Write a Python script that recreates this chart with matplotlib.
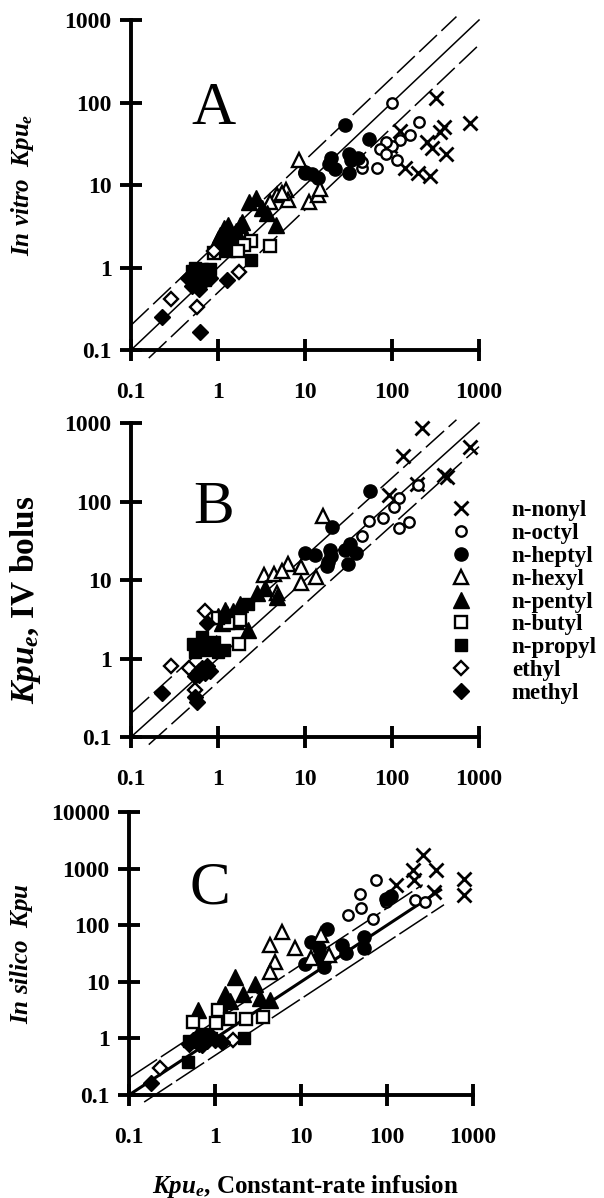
import matplotlib
matplotlib.use('Agg')
import matplotlib.pyplot as plt
from matplotlib.ticker import FixedLocator, FixedFormatter, NullLocator

plt.rcParams['font.family'] = ['Liberation Serif', 'DejaVu Serif']
plt.rcParams['font.weight'] = 'bold'
plt.rcParams['mathtext.fontset'] = 'custom'
plt.rcParams['mathtext.it'] = 'Liberation Serif:italic:bold'
plt.rcParams['mathtext.rm'] = 'Liberation Serif:bold'
plt.rcParams['mathtext.bf'] = 'Liberation Serif:bold'


# <----------------[DATA]----------------> #

series_names = ['n-nonyl', 'n-octyl', 'n-heptyl', 'n-hexyl', 'n-pentyl',
                'n-butyl', 'n-propyl', 'ethyl', 'methyl']

x_ticks = [0.1, 1, 10, 100, 1000]
x_tick_labels = ['0.1', '1', '10', '100', '1000']
y_ticks_ab = [0.1, 1, 10, 100, 1000]
y_tick_labels_ab = ['0.1', '1', '10', '100', '1000']
y_ticks_c = [0.1, 1, 10, 100, 1000, 10000]
y_tick_labels_c = ['0.1', '1', '10', '100', '1000', '10000']

# panel A : in vitro Kpu_e vs Kpu_e (constant-rate infusion)
a_nonyl = [(320, 115), (780, 57), (400, 50), (360, 44), (420, 24), (250, 33),
           (290, 28), (140, 16), (200, 14), (270, 13), (125, 45), (95, 30)]
a_octyl = [(100, 100), (205, 58), (160, 40), (125, 35), (100, 30), (85, 33),
           (72, 27), (67, 16), (45, 16), (115, 20), (85, 24), (45, 19)]
a_heptyl = [(29, 53), (54, 36), (20, 21), (19, 18), (10, 14.5), (12, 13.5),
            (14, 12), (32, 24), (34, 20), (32, 14), (41, 21), (22, 15.5), (10, 14)]
a_hexyl = [(8.5, 20), (6, 8.7), (4.8, 7.6), (6.3, 6.6), (11, 6.2), (14, 7.6),
           (15, 9), (4, 6.3), (5.5, 8)]
a_pentyl = [(2.3, 6.3), (2.7, 7), (3.2, 5.3), (3.7, 4.6), (4.6, 3.3), (1.16, 3.0),
            (1.06, 2.5), (1.38, 2.7), (1.8, 3.3), (1.5, 2.1), (1.27, 1.7),
            (1.9, 3.6), (1.0, 2.2), (1.1, 2.0), (1.2, 2.4), (1.4, 2.2),
            (1.6, 2.8), (0.95, 1.8), (1.3, 3.3), (1.7, 2.5)]
a_butyl = [(4.0, 1.8), (2.4, 2.1), (2.0, 1.9), (0.9, 1.5), (1.7, 1.6)]
a_propyl = [(2.4, 1.25), (0.55, 1.0), (0.8, 0.95), (0.7, 0.7), (0.6, 0.8),
            (0.5, 0.9), (0.65, 0.95), (0.75, 0.8)]
a_ethyl = [(0.29, 0.42), (0.57, 0.33), (1.74, 0.89), (0.9, 1.6)]
a_methyl = [(0.23, 0.25), (0.62, 0.165), (1.27, 0.7), (0.5, 0.7), (0.6, 0.55),
            (0.7, 0.9), (0.55, 0.85), (0.5, 0.6), (0.45, 0.75), (0.8, 0.75),
            (0.65, 0.65)]

# panel B : Kpu_e IV bolus vs Kpu_e (constant-rate infusion)
b_nonyl = [(780, 500), (222, 870), (132, 380), (92, 122), (196, 165),
           (400, 218), (430, 205)]
b_octyl = [(120, 110), (104, 86), (78, 61), (54, 56), (45, 36), (120, 46),
           (158, 55), (200, 160)]
b_heptyl = [(56, 135), (20.5, 48), (10, 22), (12.9, 21), (19.4, 24), (18.5, 17),
            (31.6, 16), (33, 29), (29, 24), (39, 22), (17.7, 15), (20, 20)]
b_hexyl = [(16, 65), (6.3, 16), (3.4, 11.5), (4.4, 12), (9, 14.8), (13.5, 11),
           (9, 9.1), (4.8, 6.8), (5.5, 13)]
b_pentyl = [(1.8, 5), (2.8, 6.8), (4.8, 6), (2.2, 2.3), (1.27, 3.7), (1.16, 3.1),
            (3.5, 8), (1.0, 3.5), (1.5, 4), (1.2, 4.2), (1.4, 3.3), (1.1, 2.8),
            (1.6, 3.0)]
b_butyl = [(1.74, 1.55), (1.8, 3.1), (1.3, 2.8), (1.0, 3.3)]
b_propyl = [(0.52, 1.55), (0.65, 1.9), (0.8, 1.4), (1.16, 1.3), (2.2, 5.0),
            (1.16, 3.4), (0.55, 1.2), (0.6, 1.5), (0.7, 1.3), (0.9, 1.6),
            (1.0, 1.2)]
b_ethyl = [(0.29, 0.8), (0.71, 4.0), (0.55, 0.4), (0.46, 0.75)]
b_methyl = [(0.23, 0.36), (0.57, 0.28), (0.55, 0.32), (0.74, 2.8), (0.6, 0.7),
            (0.7, 0.65), (0.75, 0.8), (0.55, 0.6), (0.65, 0.75), (0.6, 0.62),
            (0.8, 0.7)]

# panel C : in silico Kpu vs Kpu_e (constant-rate infusion)
c_nonyl = [(263, 1720), (200, 935), (205, 620), (370, 935), (780, 665),
           (780, 340), (355, 390), (126, 508)]
c_octyl = [(74, 620), (48, 360), (50, 200), (35, 150), (68, 130), (98, 260),
           (210, 275), (280, 260)]
c_heptyl = [(20, 87), (12.9, 51), (11.2, 21), (16.8, 27.5), (18.5, 18), (30, 45),
            (33, 32), (54, 61), (54, 39), (97, 295), (110, 330), (16, 40)]
c_hexyl = [(6, 76), (4.4, 45), (8.6, 39), (5, 22), (4.4, 15), (12.9, 26),
           (21, 30), (17, 67)]
c_pentyl = [(1.7, 12.3), (1.3, 6.2), (2.9, 9.3), (2.1, 6.2), (3.3, 5.1),
            (4.4, 4.8), (0.63, 3.2), (1.5, 4.5), (1.2, 3.5)]
c_butyl = [(0.55, 1.95), (1.08, 3.2), (1.03, 1.85), (1.48, 2.2), (2.3, 2.2),
           (3.6, 2.4)]
c_propyl = [(2.2, 1.0), (0.48, 0.39), (0.5, 0.9), (0.7, 1.2), (0.6, 0.85),
            (0.9, 1.0)]
c_ethyl = [(0.23, 0.3), (1.6, 0.93)]
c_methyl = [(0.18, 0.16), (0.5, 0.8), (0.6, 1.0), (0.8, 0.9), (1.2, 0.85),
            (0.9, 1.1), (0.7, 0.75), (0.55, 0.95), (0.65, 0.8), (0.75, 1.05),
            (1.0, 0.95)]

# reference lines: (x start, x end, ratio y/x)
ab_lines = [(0.1, 1000, 1.0), (0.1, 550, 2.0), (0.16, 1000, 0.5)]
c_lines = [(0.1, 420, 1.0), (0.1, 260, 2.0), (0.15, 460, 0.5)]


# <----------------[STYLE]----------------> #

marker_styles = {
  'n-nonyl':  dict(marker='x', color='k', ms=10, mew=2.0),
  'n-octyl':  dict(marker='o', mfc='white', mec='k', ms=7.5, mew=1.7),
  'n-heptyl': dict(marker='o', mfc='k', mec='k', ms=9.5),
  'n-hexyl':  dict(marker='^', mfc='white', mec='k', ms=10, mew=1.7),
  'n-pentyl': dict(marker='^', mfc='k', mec='k', ms=11),
  'n-butyl':  dict(marker='s', mfc='white', mec='k', ms=8, mew=1.7),
  'n-propyl': dict(marker='s', mfc='k', mec='k', ms=8.5),
  'ethyl':    dict(marker='D', mfc='white', mec='k', ms=7.5, mew=1.7),
  'methyl':   dict(marker='D', mfc='k', mec='k', ms=8),
}

TICK_SIZE = 17


# <----------------[PANEL]----------------> #

def drawPanel(ax, groups, lines, yticks, ylabels, letter, thick_identity):

  ax.set_xscale('log')
  ax.set_yscale('log')

  for x0, x1, r in lines:
    if r == 1.0:
      ax.plot([x0, x1], [x0, x1], color='k', lw=2.2 if thick_identity else 1.1,
              zorder=1, clip_on=False)
    else:
      dash = (22, 3) if thick_identity else (16, 4)
      ax.plot([x0, x1], [x0 * r, x1 * r], color='k', lw=1.1,
              dashes=dash, zorder=1, clip_on=False)

  handles = []
  for name, pts in zip(series_names, groups):
    xs = [p[0] for p in pts]
    ys = [p[1] for p in pts]
    h, = ax.plot(xs, ys, ls='none', zorder=3, clip_on=False, **marker_styles[name])
    handles.append(h)

  ax.set_xlim(0.1, 1000)
  ax.set_ylim(yticks[0], yticks[-1])
  ax.xaxis.set_major_locator(FixedLocator(x_ticks))
  ax.xaxis.set_major_formatter(FixedFormatter(x_tick_labels))
  ax.yaxis.set_major_locator(FixedLocator(yticks))
  ax.yaxis.set_major_formatter(FixedFormatter(ylabels))
  ax.xaxis.set_minor_locator(NullLocator())
  ax.yaxis.set_minor_locator(NullLocator())

  for s in ['top', 'right']:
    ax.spines[s].set_visible(False)
  for s in ['left', 'bottom']:
    ax.spines[s].set_linewidth(2.8)
    ax.spines[s].set_zorder(4)

  ax.tick_params(axis='both', direction='inout', length=16, width=2.8,
                 labelsize=TICK_SIZE)
  ax.tick_params(axis='y', pad=6)
  ax.tick_params(axis='x', pad=15)
  ax.patch.set_visible(False)

  ax.text(0.236, 0.73, letter, transform=ax.transAxes, fontsize=44,
          fontweight='normal', ha='center', va='center')

  return handles


# <----------------[FIGURE]----------------> #

fig = plt.figure(figsize=(6.04, 11.98), dpi=100)

ax_a = fig.add_axes([0.2169, 0.7078, 0.5762, 0.2755])
ax_b = fig.add_axes([0.2169, 0.3848, 0.5762, 0.2621])
ax_c = fig.add_axes([0.2136, 0.0860, 0.5695, 0.2362])

drawPanel(ax_a, [a_nonyl, a_octyl, a_heptyl, a_hexyl, a_pentyl, a_butyl,
                 a_propyl, a_ethyl, a_methyl],
          ab_lines, y_ticks_ab, y_tick_labels_ab, 'A', False)
hb = drawPanel(ax_b, [b_nonyl, b_octyl, b_heptyl, b_hexyl, b_pentyl, b_butyl,
                      b_propyl, b_ethyl, b_methyl],
               ab_lines, y_ticks_ab, y_tick_labels_ab, 'B', False)
drawPanel(ax_c, [c_nonyl, c_octyl, c_heptyl, c_hexyl, c_pentyl, c_butyl,
                 c_propyl, c_ethyl, c_methyl],
          c_lines, y_ticks_c, y_tick_labels_c, 'C', True)

ax_b.legend(hb, series_names, loc='upper left',
            bbox_to_anchor=(0.745, 0.5826), bbox_transform=fig.transFigure,
            frameon=False, fontsize=16.5, handlelength=1.0, handletextpad=1.7,
            labelspacing=0.08, borderpad=0, borderaxespad=0)

fig.text(0.038, 0.8456, r'In vitro  $Kpu_e$', rotation=90, fontsize=18,
         fontstyle='italic', ha='center', va='center')
fig.text(0.043, 0.499, r'$Kpu_e$, IV bolus', rotation=90, fontsize=24,
         ha='center', va='center')
fig.text(0.0364, 0.2037, r'In silico  $Kpu$', rotation=90, fontsize=18,
         fontstyle='italic', ha='center', va='center')
fig.text(0.505, 0.010, r'$Kpu_e$, Constant-rate infusion', fontsize=18,
         ha='center', va='center')

fig.savefig('out.png', dpi=100)
